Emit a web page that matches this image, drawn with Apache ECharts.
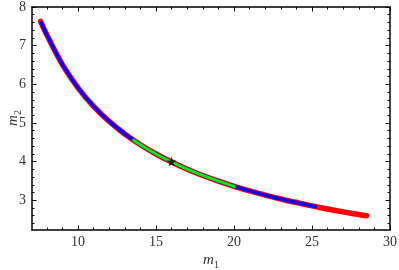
<!DOCTYPE html>
<html>
<head>
<meta charset="utf-8">
<script src="https://cdn.jsdelivr.net/npm/echarts@6/dist/echarts.min.js"></script>
<style>html,body{margin:0;padding:0;background:#fff}#c{width:399px;height:270px}</style>
</head>
<body>
<div id="c"></div>
<script>
// data
const redM1 = [7.6, 8, 9, 10, 11, 12, 13, 14, 15, 16, 17, 18, 19, 20, 21, 22, 23, 24, 25, 26, 27, 28, 28.5];
const redM2 = [7.63, 7.28, 6.51, 5.91, 5.43, 5.04, 4.715, 4.435, 4.197, 3.99, 3.804, 3.641, 3.494, 3.362, 3.242, 3.133, 3.032, 2.94, 2.854, 2.774, 2.70, 2.631, 2.598];
const blueM1 = [7.6, 8, 9, 10, 11, 12, 13, 14, 15, 16, 17, 18, 19, 20, 21, 22, 23, 24, 25, 25.3];
const blueM2 = [7.63, 7.28, 6.51, 5.91, 5.43, 5.04, 4.715, 4.435, 4.197, 3.99, 3.804, 3.641, 3.494, 3.362, 3.242, 3.133, 3.032, 2.94, 2.854, 2.83];
const greenM1 = [13.5, 14, 15, 16, 17, 18, 19, 20, 20.1];
const greenM2 = [4.57, 4.435, 4.197, 3.99, 3.804, 3.641, 3.494, 3.362, 3.35];
const greenDotM1 = [20.9];
const greenDotM2 = [3.25];
const starM1 = [16];
const starM2 = [4.0];
const xMajor = [10, 15, 20, 25, 30];
const xMinor = [8, 9, 11, 12, 13, 14, 16, 17, 18, 19, 21, 22, 23, 24, 26, 27, 28, 29];
const yMajor = [3, 4, 5, 6, 7, 8];
const yMinor = [2.4, 2.6, 2.8, 3.2, 3.4, 3.6, 3.8, 4.2, 4.4, 4.6, 4.8, 5.2, 5.4, 5.6, 5.8, 6.2, 6.4, 6.6, 6.8, 7.2, 7.4, 7.6, 7.8];
const xName = ['m', '1'];
const yName = ['m', '2'];

const zip = (a, b) => a.map((v, i) => [v, b[i]]);
const XMIN = 7.05, XMAX = 30, YMIN = 2.23, YMAX = 8;
const serif = "'Liberation Serif', 'Times New Roman', serif";
const axisLine = { show: true, onZero: false, lineStyle: { color: '#000', width: 1.5 } };

function xAx(pos, vals, len, labels, withLine) {
  return {
    type: 'value', position: pos, min: XMIN, max: XMAX,
    axisLine: withLine ? axisLine : { show: false },
    splitLine: { show: false },
    axisTick: { show: true, inside: true, length: len, customValues: vals, lineStyle: { color: '#000', width: 1 } },
    axisLabel: labels ? { show: true, customValues: vals, fontFamily: serif, fontSize: 14, color: '#333', margin: 5 } : { show: false }
  };
}
function yAx(pos, vals, len, labels, withLine) {
  return {
    type: 'value', position: pos, min: YMIN, max: YMAX,
    axisLine: withLine ? axisLine : { show: false },
    splitLine: { show: false },
    axisTick: { show: true, inside: true, length: len, customValues: vals, lineStyle: { color: '#000', width: 1 } },
    axisLabel: labels ? { show: true, customValues: vals, fontFamily: serif, fontSize: 14, color: '#333', margin: 6 } : { show: false }
  };
}

const xAxes = [
  xAx('bottom', xMajor, 4.5, true, true),
  xAx('bottom', xMinor, 2.5, false, false),
  xAx('top', xMajor, 4.5, false, true),
  xAx('top', xMinor, 2.5, false, false)
];
const yAxes = [
  yAx('left', yMajor, 4.5, true, true),
  yAx('left', yMinor, 2.5, false, false),
  yAx('right', yMajor, 4.5, false, true),
  yAx('right', yMinor, 2.5, false, false)
];
const nameRich = {
  m: { fontFamily: serif, fontStyle: 'italic', fontSize: 15, fill: '#333', lineHeight: 20, verticalAlign: 'middle' },
  s: { fontFamily: serif, fontSize: 10, fill: '#333', lineHeight: 20, verticalAlign: 'bottom' }
};

const starPath = 'path://M50,0 L61,35 L98,35 L68,57 L79,91 L50,70 L21,91 L32,57 L2,35 L39,35 Z';

const chart = echarts.init(document.getElementById('c'), null, { renderer: 'canvas' });
chart.setOption({
  animation: false,
  grid: { left: 32, right: 9, top: 7, bottom: 40, containLabel: false, outerBoundsMode: 'none' },
  xAxis: xAxes,
  yAxis: yAxes,
  graphic: [
    { type: 'text', x: 211, y: 260, style: { text: '{m|' + xName[0] + '}{s|' + xName[1] + '}', rich: nameRich, align: 'center', verticalAlign: 'middle' } },
    { type: 'text', x: 13, y: 118, rotation: Math.PI / 2, style: { text: '{m|' + yName[0] + '}{s|' + yName[1] + '}', rich: nameRich, align: 'center', verticalAlign: 'middle' } }
  ],
  series: [
    { type: 'line', data: zip(redM1, redM2), smooth: 0.4, showSymbol: false,
      lineStyle: { color: '#ff0000', width: 5.5, cap: 'round', join: 'round' } },
    { type: 'line', data: zip(blueM1, blueM2), smooth: 0.4, showSymbol: false,
      lineStyle: { color: '#0000ff', width: 3.5, cap: 'butt', join: 'round' } },
    { type: 'line', data: zip(greenM1, greenM2), smooth: 0.4, showSymbol: false,
      lineStyle: { color: '#00ee00', width: 3, cap: 'butt', join: 'round' } },
    { type: 'scatter', data: zip(greenDotM1, greenDotM2), symbol: 'rect', symbolSize: 2.5,
      itemStyle: { color: '#00ee00' } },
    { type: 'scatter', data: zip(starM1, starM2), symbol: starPath, symbolSize: 10,
      itemStyle: { color: '#000' }, z: 10 }
  ]
});
</script>
</body>
</html>
